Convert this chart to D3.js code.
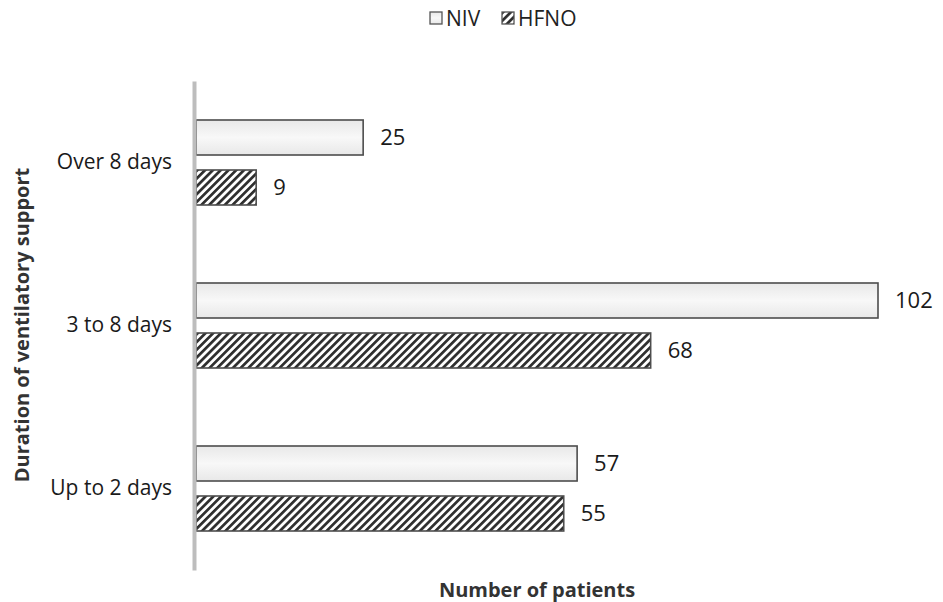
<!DOCTYPE html>
<html>
<head>
<meta charset="utf-8">
<script src="https://cdn.jsdelivr.net/npm/d3@7"></script>
<style>
  html, body { margin: 0; padding: 0; background: #fff; }
  svg { display: block; font-family: "Open Sans", "Noto Sans", sans-serif; }
</style>
</head>
<body>
<svg id="chart" width="943" height="602"></svg>
<script>
// Patients by duration of ventilatory support
const categories = ["Over 8 days", "3 to 8 days", "Up to 2 days"];
const seriesNames = ["NIV", "HFNO"];
const niv = [25, 102, 57];
const hfno = [9, 68, 55];
const xTitle = "Number of patients";
const yTitle = "Duration of ventilatory support";

const svg = d3.select("#chart");
const plotLeft = 196, plotRight = 878;

const defs = svg.append("defs");
const grad = defs.append("linearGradient")
  .attr("id", "nivFill").attr("x1", 0).attr("y1", 0).attr("x2", 0).attr("y2", 1);
grad.append("stop").attr("offset", "0%").attr("stop-color", "#e8e8e8");
grad.append("stop").attr("offset", "50%").attr("stop-color", "#f8f8f8");
grad.append("stop").attr("offset", "100%").attr("stop-color", "#e8e8e8");

const pat = defs.append("pattern")
  .attr("id", "hatch").attr("patternUnits", "userSpaceOnUse")
  .attr("width", 5.5).attr("height", 5.5)
  .attr("patternTransform", "rotate(45)");
pat.append("rect").attr("width", 5.5).attr("height", 5.5).attr("fill", "#fff");
pat.append("rect").attr("x", 0).attr("width", 2.7).attr("height", 5.5).attr("fill", "#2e2e2e");

const x = d3.scaleLinear().domain([0, 102]).range([plotLeft, plotRight]);
const y = d3.scaleBand().domain(categories).range([81, 570]);
const sub = d3.scaleBand().domain(seriesNames).range([0, y.bandwidth()])
  .paddingInner(0.3).paddingOuter(0.78);

const rows = categories.map((c, i) => ({ cat: c, vals: [niv[i], hfno[i]] }));

const g = svg.append("g");
rows.forEach(r => {
  r.vals.forEach((v, j) => {
    const s = seriesNames[j];
    const by = y(r.cat) + sub(s);
    g.append("rect")
      .attr("x", x(0)).attr("y", by)
      .attr("width", x(v) - x(0)).attr("height", sub.bandwidth())
      .attr("fill", j === 0 ? "url(#nivFill)" : "url(#hatch)")
      .attr("stroke", "#4d4d4d").attr("stroke-width", 1.6);
    g.append("text")
      .attr("x", x(v) + 17).attr("y", by + sub.bandwidth() / 2)
      .attr("dy", "0.36em")
      .attr("font-size", 22).attr("fill", "#1a1a1a")
      .text(v);
  });
});

// Vertical category axis
const yAxis = svg.append("g").attr("transform", `translate(${plotLeft - 2},0)`)
  .call(d3.axisLeft(y).tickSize(0).tickPadding(22));
yAxis.select(".domain").attr("stroke", "#bdbdbd").attr("stroke-width", 4);
yAxis.selectAll("text").attr("font-size", 21).attr("fill", "#1a1a1a")
  .attr("font-family", "'Open Sans', sans-serif");

// Axis titles
svg.append("text")
  .attr("x", 537).attr("y", 597)
  .attr("text-anchor", "middle").attr("font-size", 20).attr("font-weight", "bold")
  .attr("fill", "#333").text(xTitle);
svg.append("text")
  .attr("transform", "translate(29,325) rotate(-90)")
  .attr("text-anchor", "middle").attr("font-size", 20).attr("font-weight", "bold")
  .attr("fill", "#333").text(yTitle);

// Legend
const legend = svg.append("g");
const legendItems = [
  { name: "NIV", fill: "url(#nivFill)", x: 430 },
  { name: "HFNO", fill: "url(#hatch)", x: 502 }
];
legendItems.forEach(d => {
  legend.append("rect").attr("x", d.x).attr("y", 12).attr("width", 12).attr("height", 12)
    .attr("fill", d.fill).attr("stroke", "#555").attr("stroke-width", 1.3);
  legend.append("text").attr("x", d.x + 16).attr("y", 18).attr("dy", "0.36em")
    .attr("font-size", 21).attr("fill", "#222").text(d.name);
});
</script>
</body>
</html>
